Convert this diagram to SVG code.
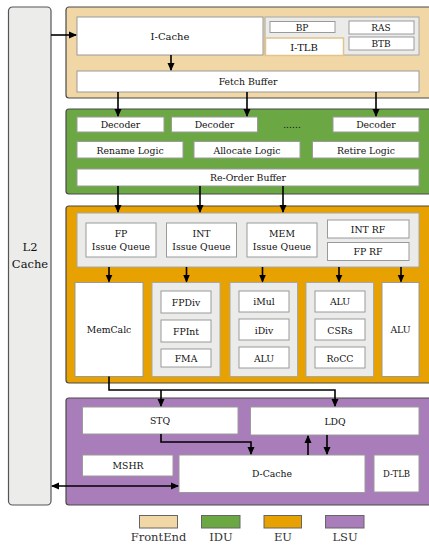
<svg xmlns="http://www.w3.org/2000/svg" width="429" height="545" viewBox="0 0 429 545">
<defs>
<marker id="ah" markerWidth="8" markerHeight="8" refX="7" refY="4" orient="auto" markerUnits="userSpaceOnUse">
<path d="M0,0.5 L8,4 L0,7.5 Z" fill="#000"/>
</marker>
<marker id="ahs" markerWidth="8" markerHeight="8" refX="1" refY="4" orient="auto" markerUnits="userSpaceOnUse">
<path d="M8,0.5 L0,4 L8,7.5 Z" fill="#000"/>
</marker>
<style>
.grp{stroke:#4a4a4a;stroke-width:1.2}
.fe{fill:#F1D7A6}.idu{fill:#6BA843}.eu{fill:#E7A100}.lsu{fill:#A87DB9}
.panel{fill:#EBEBEA;stroke:#a8a8a8;stroke-width:1}
.box{fill:#fff;stroke:#9a9a9a;stroke-width:1}
.t{font-family:"DejaVu Serif","Liberation Serif",serif;font-size:9.3px;fill:#111;text-anchor:middle}
.lg{font-family:"DejaVu Serif","Liberation Serif",serif;font-size:11.5px;fill:#333;text-anchor:middle}
.c{fill:none;stroke:#000;stroke-width:1.6}
</style>
</defs>

<g id="l2">
<rect x="8.5" y="7" width="42.5" height="498" rx="4" fill="#ECECEA" stroke="#555" stroke-width="1.2"/>
<text class="lg" x="30" y="251" style="fill:#111">L2</text>
<text class="lg" x="30" y="268" style="fill:#111">Cache</text>
</g>

<g id="frontend">
<rect class="grp fe" x="66" y="7" width="370" height="91" rx="3"/>
<g id="icache"><rect class="box" x="77" y="17" width="186" height="38"/><text class="t" x="170" y="40" style="font-size:10px">I-Cache</text></g>
<rect class="panel" x="265" y="17" width="154" height="38"/>
<g id="bp"><rect class="box" x="270" y="21.5" width="65" height="11"/><text class="t" x="302" y="30.5" style="font-size:9px">BP</text></g>
<g id="ras"><rect class="box" x="349" y="21" width="65" height="13"/><text class="t" x="381" y="31" style="font-size:9px">RAS</text></g>
<g id="btb"><rect class="box" x="349" y="37" width="65" height="13"/><text class="t" x="381" y="47" style="font-size:9px">BTB</text></g>
<g id="itlb"><rect x="265.5" y="38" width="78" height="17.5" fill="#fff" stroke="#E2C48A" stroke-width="1.5"/><text class="t" x="304" y="51" style="font-size:10px">I-TLB</text></g>
<g id="fetchbuf"><rect class="box" x="77" y="71" width="342" height="21"/><text class="t" x="248" y="85">Fetch Buffer</text></g>
</g>

<g id="idu">
<rect class="grp idu" x="66" y="109" width="370" height="85" rx="3"/>
<g id="dec1"><rect class="box" x="77" y="117" width="87" height="15"/><text class="t" x="120.5" y="128">Decoder</text></g>
<g id="dec2"><rect class="box" x="171.5" y="117" width="86" height="15"/><text class="t" x="214.5" y="128">Decoder</text></g>
<text class="t" x="292" y="128">......</text>
<g id="dec3"><rect class="box" x="333" y="117" width="86" height="15"/><text class="t" x="376" y="128">Decoder</text></g>
<g id="rename"><rect class="box" x="77" y="141.5" width="106" height="16.5"/><text class="t" x="130" y="153.5">Rename Logic</text></g>
<g id="alloc"><rect class="box" x="194" y="141.5" width="106" height="16.5"/><text class="t" x="247" y="153.5">Allocate Logic</text></g>
<g id="retire"><rect class="box" x="312.5" y="141.5" width="106.5" height="16.5"/><text class="t" x="366" y="153.5">Retire Logic</text></g>
<g id="rob"><rect class="box" x="77" y="169" width="342" height="17"/><text class="t" x="248" y="181">Re-Order Buffer</text></g>
</g>

<g id="eu">
<rect class="grp eu" x="66" y="206" width="370" height="177" rx="3"/>
<rect class="panel" x="77" y="213" width="342" height="54"/>
<g id="fpiq"><rect class="box" x="86" y="223" width="70" height="34"/><text class="t" x="121" y="237">FP</text><text class="t" x="121" y="250">Issue Queue</text></g>
<g id="intiq"><rect class="box" x="166.5" y="223" width="70" height="34"/><text class="t" x="201.5" y="237">INT</text><text class="t" x="201.5" y="250">Issue Queue</text></g>
<g id="memiq"><rect class="box" x="247" y="223" width="70" height="34"/><text class="t" x="282" y="237">MEM</text><text class="t" x="282" y="250">Issue Queue</text></g>
<g id="intrf"><rect class="box" x="327.5" y="220" width="81.5" height="18"/><text class="t" x="368" y="232.5">INT RF</text></g>
<g id="fprf"><rect class="box" x="327.5" y="242.5" width="81.5" height="18"/><text class="t" x="368" y="255">FP RF</text></g>
<g id="memcalc"><rect class="box" x="75" y="282.5" width="68" height="94"/><text class="t" x="109" y="333">MemCalc</text></g>
<g id="fpunit"><rect class="panel" x="152" y="282.5" width="68" height="94"/>
<rect class="box" x="161" y="291" width="50" height="22"/><text class="t" x="186" y="305.5">FPDiv</text>
<rect class="box" x="161" y="320" width="50" height="22"/><text class="t" x="186" y="334.5">FPInt</text>
<rect class="box" x="161" y="349" width="50" height="18"/><text class="t" x="186" y="361.5">FMA</text></g>
<g id="intunit"><rect class="panel" x="230" y="282.5" width="67.5" height="94"/>
<rect class="box" x="239" y="291" width="50" height="21"/><text class="t" x="264" y="305">iMul</text>
<rect class="box" x="239" y="319" width="50" height="21"/><text class="t" x="264" y="333.5">iDiv</text>
<rect class="box" x="239" y="347" width="50" height="21"/><text class="t" x="264" y="361.5">ALU</text></g>
<g id="aluunit"><rect class="panel" x="306" y="282.5" width="67.5" height="94"/>
<rect class="box" x="315" y="291" width="50" height="21"/><text class="t" x="340" y="305">ALU</text>
<rect class="box" x="315" y="319" width="50" height="21"/><text class="t" x="340" y="333.5">CSRs</text>
<rect class="box" x="315" y="347" width="50" height="21"/><text class="t" x="340" y="361.5">RoCC</text></g>
<g id="alu2"><rect class="box" x="382" y="282.5" width="37" height="94"/><text class="t" x="400.5" y="333">ALU</text></g>
</g>

<g id="lsu">
<rect class="grp lsu" x="66" y="398" width="370" height="107" rx="3"/>
<g id="stq"><rect class="box" x="82.5" y="407" width="155.5" height="27"/><text class="t" x="160" y="424">STQ</text></g>
<g id="ldq"><rect class="box" x="250.5" y="407" width="168.5" height="28"/><text class="t" x="335" y="424.5">LDQ</text></g>
<g id="mshr"><rect class="box" x="82.5" y="455" width="90.5" height="21"/><text class="t" x="128" y="469">MSHR</text></g>
<g id="dcache"><rect class="box" x="179" y="455" width="186" height="37.5"/><text class="t" x="272" y="477">D-Cache</text></g>
<g id="dtlb"><rect class="box" x="374" y="455" width="45" height="37"/><text class="t" x="396.5" y="477" style="font-size:8.5px">D-TLB</text></g>
</g>

<g id="connectors">
<line class="c" x1="51" y1="35" x2="76" y2="35" marker-end="url(#ah)"/>
<line class="c" x1="171" y1="55" x2="171" y2="70" marker-end="url(#ah)"/>
<line class="c" x1="118" y1="92" x2="118" y2="116" marker-end="url(#ah)"/>
<line class="c" x1="247" y1="92" x2="247" y2="116" marker-end="url(#ah)"/>
<line class="c" x1="376" y1="92" x2="376" y2="116" marker-end="url(#ah)"/>
<line class="c" x1="118" y1="186" x2="118" y2="212" marker-end="url(#ah)"/>
<line class="c" x1="200" y1="186" x2="200" y2="212" marker-end="url(#ah)"/>
<line class="c" x1="283" y1="186" x2="283" y2="212" marker-end="url(#ah)"/>
<line class="c" x1="109" y1="267" x2="109" y2="281.5" marker-end="url(#ah)"/>
<line class="c" x1="186.5" y1="267" x2="186.5" y2="281.5" marker-end="url(#ah)"/>
<line class="c" x1="262.5" y1="267" x2="262.5" y2="281.5" marker-end="url(#ah)"/>
<line class="c" x1="339" y1="267" x2="339" y2="281.5" marker-end="url(#ah)"/>
<line class="c" x1="401" y1="267" x2="401" y2="281.5" marker-end="url(#ah)"/>
<polyline class="c" points="109,376.5 109,390 335,390 335,406" marker-end="url(#ah)"/>
<line class="c" x1="161" y1="390" x2="161" y2="406" marker-end="url(#ah)"/>
<polyline class="c" points="161,434 161,442 251,442 251,454" marker-end="url(#ah)"/>
<line class="c" x1="308" y1="455" x2="308" y2="436" marker-end="url(#ah)"/>
<line class="c" x1="327" y1="435" x2="327" y2="454" marker-end="url(#ah)"/>
<line class="c" x1="52" y1="486" x2="178" y2="486" marker-start="url(#ahs)" marker-end="url(#ah)"/>
</g>

<g id="legend">
<rect class="fe" x="139.5" y="515.5" width="38" height="12.5" stroke="#666" stroke-width="1"/>
<text class="lg" x="158.5" y="541">FrontEnd</text>
<rect class="idu" x="201.5" y="515.5" width="38.5" height="12.5" stroke="#666" stroke-width="1"/>
<text class="lg" x="221" y="541">IDU</text>
<rect class="eu" x="264" y="515.5" width="37.5" height="12.5" stroke="#666" stroke-width="1"/>
<text class="lg" x="283" y="541">EU</text>
<rect class="lsu" x="325.5" y="515.5" width="38.5" height="12.5" stroke="#666" stroke-width="1"/>
<text class="lg" x="345" y="541">LSU</text>
</g>
</svg>
